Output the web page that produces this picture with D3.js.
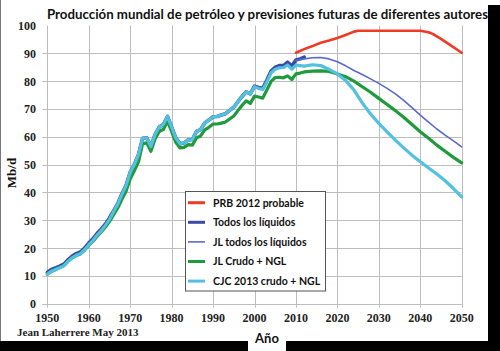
<!DOCTYPE html>
<html>
<head>
<meta charset="utf-8">
<style>
  body { margin: 0; background: #fff; }
  svg { display: block; }
</style>
</head>
<body>
<div id="chart"></div>
<script src="https://cdn.jsdelivr.net/npm/d3@7"></script>
<script>
// ---- data (Mb/d) ----
const xTicks = [1950, 1960, 1970, 1980, 1990, 2000, 2010, 2020, 2030, 2040, 2050];
const yTicks = [0, 10, 20, 30, 40, 50, 60, 70, 80, 90, 100];

const histYears = d3.range(1950, 2013);

// Todos los líquidos (historical)
const todosLiquidos = [
  11.2, 12.3, 12.9, 13.5, 14.2, 15.8, 17.1, 18.0, 18.6, 20.0,
  21.8, 23.3, 25.2, 26.8, 28.6, 30.8, 33.4, 36.0, 39.4, 42.5,
  47.2, 50.0, 53.6, 59.5, 59.6, 56.5, 60.8, 63.5, 64.4, 67.3,
  63.5, 59.6, 57.5, 57.8, 58.9, 59.0, 61.9, 62.6, 65.0, 66.0,
  67.2, 67.3, 67.8, 68.3, 69.5, 70.6, 72.6, 74.5, 76.2, 75.4,
  78.2, 77.7, 77.4, 80.4, 83.6, 85.0, 85.6, 85.6, 86.8, 85.4,
  87.6, 88.0, 88.6
];

// JL Crudo + NGL (historical part)
const jlCrudoHist = [
  10.6, 11.6, 12.3, 13.0, 13.7, 15.2, 16.5, 17.3, 17.9, 19.2,
  21.0, 22.4, 24.2, 25.8, 27.5, 29.5, 32.0, 34.4, 37.5, 40.4,
  44.8, 47.8, 51.0, 57.5, 57.8, 54.8, 59.2, 61.9, 62.6, 65.6,
  61.9, 58.0, 56.0, 56.2, 57.2, 57.0, 59.6, 60.3, 62.5, 63.4,
  64.6, 64.6, 64.9, 65.3, 66.4, 67.5, 69.4, 71.3, 72.9, 72.0,
  74.6, 74.3, 73.9, 76.9, 79.9, 81.3, 81.4, 81.2, 81.9, 80.6,
  82.6, 82.9, 83.3
];

// CJC 2013 crudo + NGL (historical part)
const cjcHist = [
  10.6, 11.7, 12.3, 12.9, 13.6, 15.2, 16.5, 17.4, 18.0, 19.4,
  21.2, 22.7, 24.6, 26.2, 28.1, 30.3, 33.1, 35.8, 39.3, 42.4,
  47.2, 50.0, 53.6, 59.5, 59.6, 56.5, 60.8, 63.5, 64.4, 67.3,
  63.5, 59.6, 57.5, 57.8, 58.9, 59.0, 61.9, 62.6, 65.0, 66.0,
  67.2, 67.3, 67.8, 68.3, 69.5, 70.6, 72.6, 74.5, 76.2, 75.4,
  78.0, 77.4, 77.0, 79.8, 83.0, 84.3, 84.8, 84.9, 85.8, 84.3,
  85.8, 85.6, 85.4
];

const futYears = [2014, 2016, 2018, 2020, 2022, 2024, 2026, 2028, 2030,
                  2032, 2034, 2036, 2038, 2040, 2042, 2044, 2046, 2048, 2050];
const jlCrudoFut = [83.6, 83.7, 83.5, 82.6, 81.6, 80.0, 78.0, 76.0, 73.8,
                    71.6, 69.4, 67.0, 64.4, 61.8, 59.5, 57.0, 54.8, 52.6, 50.6];
const cjcFut = [85.9, 85.6, 84.2, 82.6, 80.2, 76.8, 72.2, 68.2, 64.8,
                61.8, 58.8, 56.0, 53.4, 51.0, 48.8, 46.6, 44.2, 41.4, 38.4];

// JL todos los líquidos (forecast)
const jlTodosYears = [2010, 2012, 2014, 2016, 2018, 2020, 2022, 2024, 2026, 2028, 2030,
                      2032, 2034, 2036, 2038, 2040, 2042, 2044, 2046, 2048, 2050];
const jlTodos = [87.4, 88.0, 88.4, 88.5, 88.0, 87.0, 85.5, 83.8, 82.4, 80.8, 79.2,
                 77.4, 75.4, 73.1, 70.5, 67.8, 65.3, 62.8, 60.6, 58.5, 56.4];

// PRB 2012 probable
const prbYears = [2010, 2012, 2014, 2016, 2018, 2020, 2022, 2024, 2025, 2030, 2035,
                  2040, 2042, 2043, 2045, 2047, 2050];
const prb = [90.2, 91.5, 92.6, 93.8, 94.6, 95.5, 96.6, 97.8, 98.1, 98.1, 98.1,
             98.1, 97.6, 97.0, 95.2, 93.2, 90.2];

const legendLabels = ["PRB 2012 probable", "Todos los líquidos", "JL todos los líquidos",
                      "JL Crudo + NGL", "CJC 2013 crudo + NGL"];

// ---- build ----
const W = 500, H = 351;
const svg = d3.select("#chart").append("svg").attr("width", W).attr("height", H);

const x = d3.scaleLinear().domain([1950, 2050]).range([47.3, 461.7]);
const y = d3.scaleLinear().domain([0, 100]).range([303.7, 25.5]);

const zip = (xs, ys) => xs.map((d, i) => [d, ys[i]]);

const series = {
  prb: zip(prbYears, prb),
  todos: zip(histYears, todosLiquidos),
  jlTodos: zip(jlTodosYears, jlTodos),
  jlCrudo: zip(histYears, jlCrudoHist).concat(zip(futYears, jlCrudoFut)),
  cjc: zip(histYears, cjcHist).concat(zip(futYears, cjcFut))
};

const colors = {
  prb: "#f13a22",
  todos: "#3a4aa6",
  jlTodos: "#5a69cc",
  jlCrudo: "#1f9a3c",
  cjc: "#52c0df"
};
const widths = { prb: 2.6, todos: 3.6, jlTodos: 1.6, jlCrudo: 3.2, cjc: 3.2 };

// background frame
svg.append("rect").attr("width", W).attr("height", H).attr("fill", "#fff");
svg.append("rect").attr("x", 488).attr("y", 5).attr("width", 12).attr("height", H - 5).attr("fill", "#000");
svg.append("rect").attr("x", 0).attr("y", 341).attr("width", W).attr("height", 10).attr("fill", "#000");
svg.append("rect").attr("x", 248).attr("y", 330).attr("width", 38).attr("height", 21).attr("fill", "#fff");
svg.append("line").attr("x1", 0.5).attr("x2", 0.5).attr("y1", 0).attr("y2", 341)
  .attr("stroke", "#777").attr("stroke-width", 1);

// grid
const grid = svg.append("g").attr("stroke", "#bdbdbd").attr("stroke-width", 1);
grid.selectAll(".vg").data(xTicks).join("line")
  .attr("x1", d => Math.round(x(d)) + 0.5).attr("x2", d => Math.round(x(d)) + 0.5)
  .attr("y1", y(100)).attr("y2", y(0) + 4);
grid.selectAll(".hg").data(yTicks.filter(d => d < 100)).join("line")
  .attr("x1", x(1950) - 5).attr("x2", x(2050))
  .attr("y1", d => Math.round(y(d)) + 0.5).attr("y2", d => Math.round(y(d)) + 0.5);

// y labels
svg.append("g").selectAll("text").data(yTicks).join("text")
  .attr("x", 36).attr("y", d => y(d) + 4.5)
  .attr("text-anchor", "end")
  .attr("font-family", "Liberation Serif")
  .attr("font-weight", "bold").attr("font-size", 12)
  .attr("fill", "#222")
  .text(d => d);

// x labels
svg.append("g").selectAll("text").data(xTicks).join("text")
  .attr("x", d => x(d)).attr("y", 322)
  .attr("text-anchor", "middle")
  .attr("font-family", "Liberation Serif")
  .attr("font-weight", "bold").attr("font-size", 12)
  .attr("fill", "#222")
  .text(d => d);

// axis titles
svg.append("text")
  .attr("transform", "translate(16,173) rotate(-90)")
  .attr("text-anchor", "middle")
  .attr("font-family", "Liberation Serif").attr("font-weight", "bold").attr("font-size", 13)
  .attr("fill", "#111").text("Mb/d");

svg.append("text")
  .attr("x", 267).attr("y", 343).attr("text-anchor", "middle")
  .attr("font-family", "Lato").attr("font-weight", "bold").attr("font-size", 13)
  .attr("fill", "#111").text("Año");

svg.append("text")
  .attr("x", 17).attr("y", 336)
  .attr("font-family", "Liberation Serif").attr("font-weight", "bold").attr("font-size", 11)
  .attr("fill", "#222").text("Jean Laherrere May 2013");

svg.append("text")
  .attr("x", 267.5).attr("y", 19).attr("text-anchor", "middle")
  .attr("font-family", "Lato").attr("font-weight", "bold").attr("font-size", 13)
  .attr("textLength", 441).attr("lengthAdjust", "spacingAndGlyphs")
  .attr("fill", "#111")
  .text("Producción mundial de petróleo y previsiones futuras de diferentes autores");

// lines
const line = d3.line().x(d => x(d[0])).y(d => y(d[1])).curve(d3.curveLinear);
const order = ["todos", "jlCrudo", "cjc", "jlTodos", "prb"];
svg.append("g").selectAll("path").data(order).join("path")
  .attr("d", k => line(series[k]))
  .attr("fill", "none")
  .attr("stroke", k => colors[k])
  .attr("stroke-width", k => widths[k])
  .attr("stroke-linejoin", "round")
  .attr("stroke-linecap", "round");

// legend
const legKeys = ["prb", "todos", "jlTodos", "jlCrudo", "cjc"];
const leg = svg.append("g");
leg.append("rect")
  .attr("x", 185.5).attr("y", 191.5).attr("width", 140).attr("height", 99.5)
  .attr("fill", "#fff").attr("stroke", "#555").attr("stroke-width", 1);
const rows = leg.selectAll("g").data(legKeys).join("g")
  .attr("transform", (k, i) => `translate(0,${202.7 + i * 19.6})`);
rows.append("line")
  .attr("x1", 188).attr("x2", 205).attr("y1", 0).attr("y2", 0)
  .attr("stroke", k => colors[k])
  .attr("stroke-width", k => k === "jlTodos" ? 1.6 : 3);
rows.append("text")
  .attr("x", 213).attr("y", 3.8)
  .attr("font-family", "Lato").attr("font-weight", "bold").attr("font-size", 10.5)
  .attr("fill", "#111")
  .text((k, i) => legendLabels[i]);
</script>
</body>
</html>
